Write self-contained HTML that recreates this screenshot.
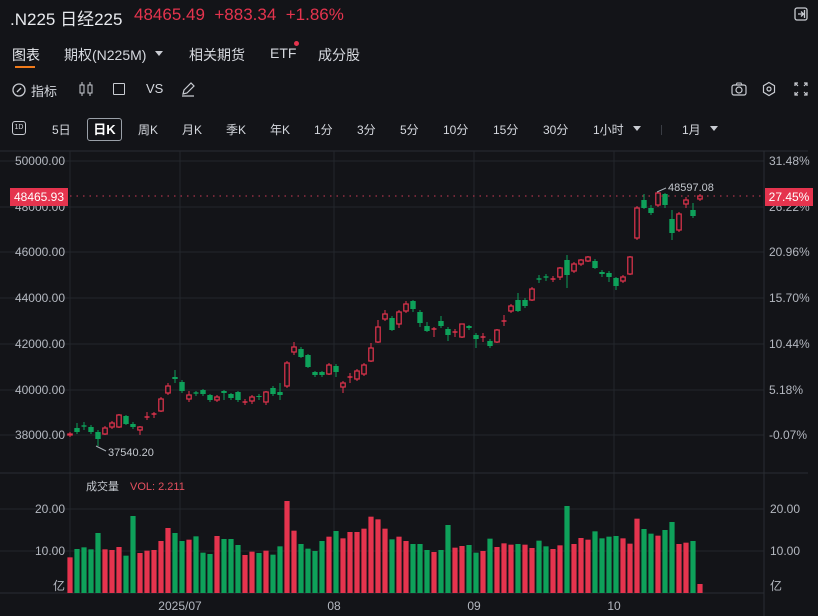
<!DOCTYPE html>
<html><head><meta charset="utf-8">
<style>
html,body{margin:0;padding:0;background:#131418;}
body{width:818px;height:616px;overflow:hidden;position:relative;font-family:"Liberation Sans","Noto Sans CJK SC",sans-serif;color:#d5d8de;}
.a{position:absolute;white-space:nowrap;}
</style></head><body>
<div class="a" style="left:10px;top:5px;font-size:17px;color:#e8eaee;">.N225 日经225</div>
<div class="a" style="left:134px;top:5px;font-size:17px;color:#e5344e;">48465.49&nbsp; +883.34&nbsp; +1.86%</div>
<svg class="a" style="left:794px;top:7px" width="14" height="14"><rect x="1" y="1" width="12" height="12" rx="2" fill="none" stroke="#c9ccd2" stroke-width="1.3"/><path d="M4 7h5M7 4.5l2.5 2.5L7 9.5M10.5 3v8" stroke="#c9ccd2" stroke-width="1.3" fill="none"/></svg>

<div class="a" style="left:12px;top:45px;font-size:14px;color:#e8eaee;">图表</div>
<div class="a" style="left:15px;top:66px;width:20px;height:2px;background:#f07a1a;"></div>
<div class="a" style="left:64px;top:45px;font-size:14px;">期权(N225M)</div>
<div class="a" style="left:155px;top:51px;width:0;height:0;border-left:4px solid transparent;border-right:4px solid transparent;border-top:5px solid #c9ccd2;"></div>
<div class="a" style="left:189px;top:45px;font-size:14px;">相关期货</div>
<div class="a" style="left:270px;top:45px;font-size:14px;">ETF</div>
<div class="a" style="left:294px;top:41px;width:5px;height:5px;border-radius:50%;background:#e5344e;"></div>
<div class="a" style="left:318px;top:45px;font-size:14px;">成分股</div>

<svg class="a" style="left:11px;top:82px" width="16" height="16"><circle cx="8" cy="8" r="6" fill="none" stroke="#c9ccd2" stroke-width="1.3"/><path d="M6 10l4-4" stroke="#c9ccd2" stroke-width="1.3"/></svg>
<div class="a" style="left:31px;top:81px;font-size:13px;">指标</div>
<svg class="a" style="left:78px;top:81px" width="16" height="16"><rect x="2" y="4" width="4" height="8" fill="none" stroke="#c9ccd2"/><rect x="10" y="4" width="4" height="8" fill="none" stroke="#c9ccd2"/><path d="M4 1v3M4 12v3M12 1v3M12 12v3" stroke="#c9ccd2"/></svg>
<div class="a" style="left:113px;top:83px;width:10px;height:10px;border:1.3px solid #c9ccd2;border-radius:1px;"></div>
<div class="a" style="left:146px;top:81px;font-size:13px;">VS</div>
<svg class="a" style="left:180px;top:81px" width="16" height="16"><path d="M3 13l1-4 7-7 3 3-7 7z M2 15h12" fill="none" stroke="#c9ccd2" stroke-width="1.2"/></svg>
<svg class="a" style="left:731px;top:82px" width="16" height="14"><rect x="1" y="3" width="14" height="10" rx="2" fill="none" stroke="#c9ccd2" stroke-width="1.2"/><circle cx="8" cy="8" r="3" fill="none" stroke="#c9ccd2" stroke-width="1.2"/><path d="M5 3l1-2h4l1 2" fill="none" stroke="#c9ccd2"/></svg>
<svg class="a" style="left:761px;top:81px" width="16" height="16"><path d="M8 1.5l5.5 3.2v6.6L8 14.5l-5.5-3.2V4.7z" fill="none" stroke="#c9ccd2" stroke-width="1.2"/><circle cx="8" cy="8" r="2" fill="none" stroke="#c9ccd2" stroke-width="1.2"/></svg>
<svg class="a" style="left:794px;top:82px" width="14" height="14"><path d="M1 4V1h3M10 1h3v3M13 10v3h-3M4 13H1v-3M1 1l3 3M13 1l-3 3M13 13l-3-3M1 13l3-3" fill="none" stroke="#c9ccd2" stroke-width="1.2"/></svg>

<div class="a" style="left:12px;top:121px;width:12px;height:12px;border:1px solid #c9ccd2;border-radius:3px;font-size:7px;line-height:12px;text-align:center;">1D</div>
<div class="a" style="left:52px;top:121px;font-size:12px;">5日</div>
<div class="a" style="left:87px;top:118px;width:33px;height:21px;border:1px solid #9aa0a8;border-radius:3px;font-size:13px;line-height:21px;text-align:center;color:#fff;font-weight:bold;">日K</div>
<div class="a" style="left:138px;top:121px;font-size:12px;">周K</div>
<div class="a" style="left:182px;top:121px;font-size:12px;">月K</div>
<div class="a" style="left:226px;top:121px;font-size:12px;">季K</div>
<div class="a" style="left:270px;top:121px;font-size:12px;">年K</div>
<div class="a" style="left:314px;top:121px;font-size:12px;">1分</div>
<div class="a" style="left:357px;top:121px;font-size:12px;">3分</div>
<div class="a" style="left:400px;top:121px;font-size:12px;">5分</div>
<div class="a" style="left:443px;top:121px;font-size:12px;">10分</div>
<div class="a" style="left:493px;top:121px;font-size:12px;">15分</div>
<div class="a" style="left:543px;top:121px;font-size:12px;">30分</div>
<div class="a" style="left:593px;top:121px;font-size:12px;">1小时</div>
<div class="a" style="left:633px;top:126px;width:0;height:0;border-left:4px solid transparent;border-right:4px solid transparent;border-top:5px solid #c9ccd2;"></div>
<div class="a" style="left:661px;top:125px;width:1px;height:10px;background:#3a3d44;"></div>
<div class="a" style="left:682px;top:121px;font-size:12px;">1月</div>
<div class="a" style="left:710px;top:126px;width:0;height:0;border-left:4px solid transparent;border-right:4px solid transparent;border-top:5px solid #c9ccd2;"></div>

<svg id="c" class="a" style="left:0;top:0" width="818" height="616"></svg>
<script>
var s='';
function L(x1,y1,x2,y2,c,w,d){s+='<line x1="'+x1+'" y1="'+y1+'" x2="'+x2+'" y2="'+y2+'" stroke="'+c+'" stroke-width="'+(w||1)+'"'+(d?' stroke-dasharray="'+d+'"':'')+'/>';}
function T(x,y,t,c,a,sz){s+='<text x="'+x+'" y="'+y+'" fill="'+c+'" font-size="'+(sz||12)+'" text-anchor="'+(a||'start')+'" font-family="Liberation Sans,Noto Sans CJK SC,sans-serif">'+t+'</text>';}
var G='#23262c';
L(0,151,808,151,'#2a2d33');
var gy=[161,207,252,298,344,390,435];
gy.forEach(function(y){L(0,y,764,y,G);});
[70,180,334,474,614].forEach(function(x){L(x,151,x,593,G);});
L(764,151,764,616,'#2a2d33');
L(0,473,808,473,'#2a2d33');
L(0,509,764,509,G);L(0,551,764,551,G);
L(0,593,764,593,'#2a2d33');
var lv=['50000.00','48000.00','46000.00','44000.00','42000.00','40000.00','38000.00'];
var rv=['31.48%','26.22%','20.96%','15.70%','10.44%','5.18%','-0.07%'];
gy.forEach(function(y,i){T(65,y+4,lv[i],'#b4b8c0','end');T(769,y+4,rv[i],'#b4b8c0');});
var R='#e5344e',Gr='#0ea15a';
var C=[['r',434,435,432,437],['g',428,432,423,434],['g',426,426,422,430],['g',427,432,425,434],['g',432,439,430,446],['r',428,434,426,435],['r',423,427,421,429],['r',415,427,414,428],['g',416,424,415,425],['g',424,427,422,429],['r',427,430,426,435],['r',417,417,412,420],['r',414,414,412,418],['r',399,411,397,412],['r',386,393,383,395],['g',377,379,370,383],['g',382,391,380,393],['r',395,399,391,402],['g',393,393,391,396],['g',390,394,389,396],['g',395,400,394,402],['r',397,400,395,402],['g',391,393,390,400],['g',394,398,393,400],['g',392,400,391,402],['r',402,402,399,405],['r',397,401,395,404],['g',396,397,394,400],['r',392,402,391,405],['g',388,394,386,396],['g',392,395,383,400],['r',363,386,361,388],['r',347,352,342,355],['g',349,357,347,358],['g',355,367,354,368],['g',372,375,371,377],['g',372,375,371,377],['r',365,374,363,375],['g',366,372,364,377],['r',383,387,381,393],['r',377,377,373,383],['r',371,379,369,381],['r',365,374,363,376],['r',348,361,343,362],['r',327,342,320,343],['r',314,319,310,321],['g',318,330,316,331],['r',312,324,310,328],['r',304,311,301,313],['g',301,309,300,312],['g',312,323,310,327],['g',326,331,322,332],['r',329,329,327,337],['g',321,326,316,328],['g',329,335,327,341],['r',332,332,329,337],['r',324,337,324,338],['g',326,328,325,330],['g',335,339,333,348],['r',337,337,333,342],['g',341,346,339,348],['r',330,342,329,343],['r',321,321,315,326],['r',306,311,304,313],['g',300,311,293,312],['g',300,306,298,308],['r',289,300,287,301],['g',279,279,275,283],['g',277,277,274,281],['r',279,279,276,282],['r',268,277,267,280],['g',260,275,255,288],['r',264,271,262,273],['r',260,264,259,266],['r',257,261,256,262],['g',261,268,259,269],['g',272,274,270,277],['g',273,277,271,282],['g',278,286,277,290],['r',277,281,275,283],['r',257,274,256,275],['r',208,238,206,240],['g',200,208,194,209],['g',208,213,205,215],['r',193,205,192,207],['g',194,205,193,208],['g',219,233,210,240],['r',214,230,212,232],['r',200,204,197,208],['g',210,216,203,218],['r',196,199,194,201]];
C.forEach(function(c,i){var x=70+7*i;var col=c[0]=='r'?R:Gr;
L(x,c[3],x,c[4],col,1);
var h=Math.max(c[2]-c[1],1);
if(c[1]==c[2]){L(x-2.5,c[1],x+2.5,c[1],col,1.4);}
else if(c[0]=='r'){s+='<rect x="'+(x-2.2)+'" y="'+c[1]+'" width="4.4" height="'+h+'" fill="#131418" stroke="'+R+'" stroke-width="1.2"/>';}
else{s+='<rect x="'+(x-2.7)+'" y="'+c[1]+'" width="5.4" height="'+h+'" fill="'+Gr+'"/>';}
});
var V=[262,237,232,238,189,238,240,231,257,138,249,242,240,213,174,189,213,209,199,248,252,198,207,207,225,255,245,249,242,254,229,93,182,222,236,243,213,200,183,205,186,186,176,140,148,176,208,200,213,222,222,240,246,240,165,233,228,225,248,243,206,231,220,224,222,224,234,212,229,237,226,108,222,204,209,184,205,200,198,205,221,146,177,191,197,180,156,222,218,213,342];
var VC='rggggrrrggrrrrrggrgggrgggrrgrggrrggggrgrrrrrrrgrrggg'.slice(0,51)+'grggrrggrgrrrgrrggrrgrrrggggrrrggrggrrgr';
V.forEach(function(t,i){var x=70+7*i;var y=470+t/3;s+='<rect x="'+(x-2.6)+'" y="'+y+'" width="5.2" height="'+(593-y)+'" fill="'+(VC[i]=='r'?R:Gr)+'"/>';});
L(70,196,764,196,'#a8334a',1.2,'1.5 5');
s+='<rect x="10" y="188" width="58" height="18" fill="'+R+'"/>';T(39,201,'48465.93','#fff','middle');
s+='<rect x="765" y="188" width="48" height="18" fill="'+R+'"/>';T(789,201,'27.45%','#fff','middle');
L(657,192,666,188,'#aab0b8');T(668,191,'48597.08','#c4c8ce','start',11);
L(96,446,106,451,'#aab0b8');T(108,456,'37540.20','#c4c8ce','start',11);
T(86,490,'成交量','#c4c8ce','start',11);T(130,490,'VOL: 2.211','#e5505f','start',11);
T(65,513,'20.00','#b4b8c0','end');T(65,555,'10.00','#b4b8c0','end');T(65,590,'亿','#b4b8c0','end');
T(770,513,'20.00','#b4b8c0');T(770,555,'10.00','#b4b8c0');T(770,590,'亿','#b4b8c0');
T(180,610,'2025/07','#b4b8c0','middle');T(334,610,'08','#b4b8c0','middle');T(474,610,'09','#b4b8c0','middle');T(614,610,'10','#b4b8c0','middle');
document.getElementById('c').innerHTML=s;
</script>
</body></html>
